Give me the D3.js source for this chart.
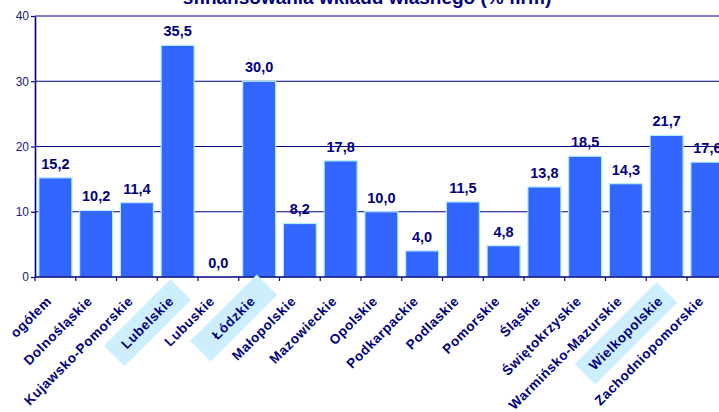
<!DOCTYPE html>
<html>
<head>
<meta charset="utf-8">
<script src="https://cdn.jsdelivr.net/npm/d3@7"></script>
<style>
  body { margin: 0; background: #fff; overflow: hidden; }
  svg { display: block; font-family: "Liberation Sans", Arial, sans-serif; }
</style>
</head>
<body>
<svg id="chart"></svg>
<script>
const regions = [
  "ogółem", "Dolnośląskie", "Kujawsko-Pomorskie", "Lubelskie", "Lubuskie",
  "Łódzkie", "Małopolskie", "Mazowieckie", "Opolskie", "Podkarpackie",
  "Podlaskie", "Pomorskie", "Śląskie", "Świętokrzyskie", "Warmińsko-Mazurskie",
  "Wielkopolskie", "Zachodniopomorskie"
];
const shares = [15.2, 10.2, 11.4, 35.5, 0.0, 30.0, 8.2, 17.8, 10.0, 4.0, 11.5, 4.8, 13.8, 18.5, 14.3, 21.7, 17.6];
const highlighted = ["Lubelskie", "Łódzkie", "Wielkopolskie"];
const yTicks = [0, 10, 20, 30, 40];
const title = "sfinansowania wkładu własnego (% firm)";

const width = 719;
const height = 412;
const navy = "#000080";

const svg = d3.select("#chart").attr("width", width).attr("height", height);

// x band runs past the right edge, like the cropped original
const x = d3.scaleBand()
  .domain(regions)
  .range([35, 35 + regions.length * 40.75])
  .paddingInner(0.19)
  .paddingOuter(0.095);

const y = d3.scaleLinear().domain([0, 40]).range([277, 16]);

// gridlines
svg.append("g")
  .selectAll("line")
  .data(yTicks.filter((d) => d > 0))
  .enter()
  .append("line")
  .attr("x1", 35)
  .attr("x2", width)
  .attr("y1", (d) => y(d))
  .attr("y2", (d) => y(d))
  .attr("stroke", navy)
  .attr("stroke-width", 1);

// bars
svg.append("g")
  .selectAll("rect")
  .data(shares)
  .enter()
  .append("rect")
  .attr("x", (d, i) => x(regions[i]))
  .attr("y", (d) => y(d))
  .attr("width", x.bandwidth())
  .attr("height", (d) => y(0) - y(d))
  .attr("fill", "#3366ff")
  .attr("stroke", "#b3ecff")
  .attr("stroke-width", 1.2);

// value labels
svg.append("g")
  .selectAll("text")
  .data(shares)
  .enter()
  .append("text")
  .attr("x", (d, i) => x(regions[i]) + x.bandwidth() / 2)
  .attr("y", (d) => y(d) - 9)
  .attr("text-anchor", "middle")
  .attr("font-weight", "bold")
  .attr("font-size", "14.5px")
  .attr("fill", navy)
  .text((d) => d.toFixed(1).replace(".", ","));

// y axis
const yAxis = d3.axisLeft(y).tickValues(yTicks).tickSize(4).tickSizeOuter(0);
const gy = svg.append("g").attr("transform", "translate(35,0)").call(yAxis);
gy.select(".domain").attr("stroke", navy).attr("stroke-width", 1.6);
gy.selectAll(".tick line").attr("stroke", navy).attr("stroke-width", 1.2);
gy.selectAll(".tick text")
  .attr("x", -6)
  .attr("font-size", "12px")
  .attr("font-family", "Liberation Sans, Arial, sans-serif")
  .attr("fill", "#1a1a80");

// x axis line with ticks at band edges
const edges = d3.range(regions.length + 1).map((i) => 35 + i * x.step());
svg.append("line")
  .attr("x1", 35).attr("x2", width)
  .attr("y1", y(0)).attr("y2", y(0))
  .attr("stroke", navy).attr("stroke-width", 1.6);
svg.append("g")
  .selectAll("line")
  .data(edges)
  .enter()
  .append("line")
  .attr("x1", (d) => d).attr("x2", (d) => d)
  .attr("y1", y(0)).attr("y2", y(0) + 4)
  .attr("stroke", navy).attr("stroke-width", 1.2);

// rotated category labels
const labels = svg.append("g")
  .selectAll("g")
  .data(regions)
  .enter()
  .append("g")
  .attr("transform", (d) => `translate(${x(d) + x.bandwidth() / 2 - 3}, 302) rotate(-45)`);

labels.append("text")
  .attr("text-anchor", "end")
  .attr("font-weight", "bold")
  .attr("font-size", "13.5px")
  .attr("letter-spacing", "0.6px")
  .attr("fill", navy)
  .text((d) => d);

labels.filter((d) => highlighted.includes(d)).each(function () {
  const g = d3.select(this);
  const len = g.select("text").node().getComputedTextLength();
  const boxLen = Math.max(94, len + 18);
  g.insert("rect", "text")
    .attr("x", -len / 2 - boxLen / 2)
    .attr("y", -4.5 - 14.5)
    .attr("width", boxLen)
    .attr("height", 29)
    .attr("fill", "#cdeefc");
});

// title (top line cut off in the original)
svg.append("text")
  .attr("x", 367)
  .attr("y", 4)
  .attr("text-anchor", "middle")
  .attr("font-weight", "bold")
  .attr("font-size", "19px")
  .attr("fill", navy)
  .text(title);
</script>
</body>
</html>
